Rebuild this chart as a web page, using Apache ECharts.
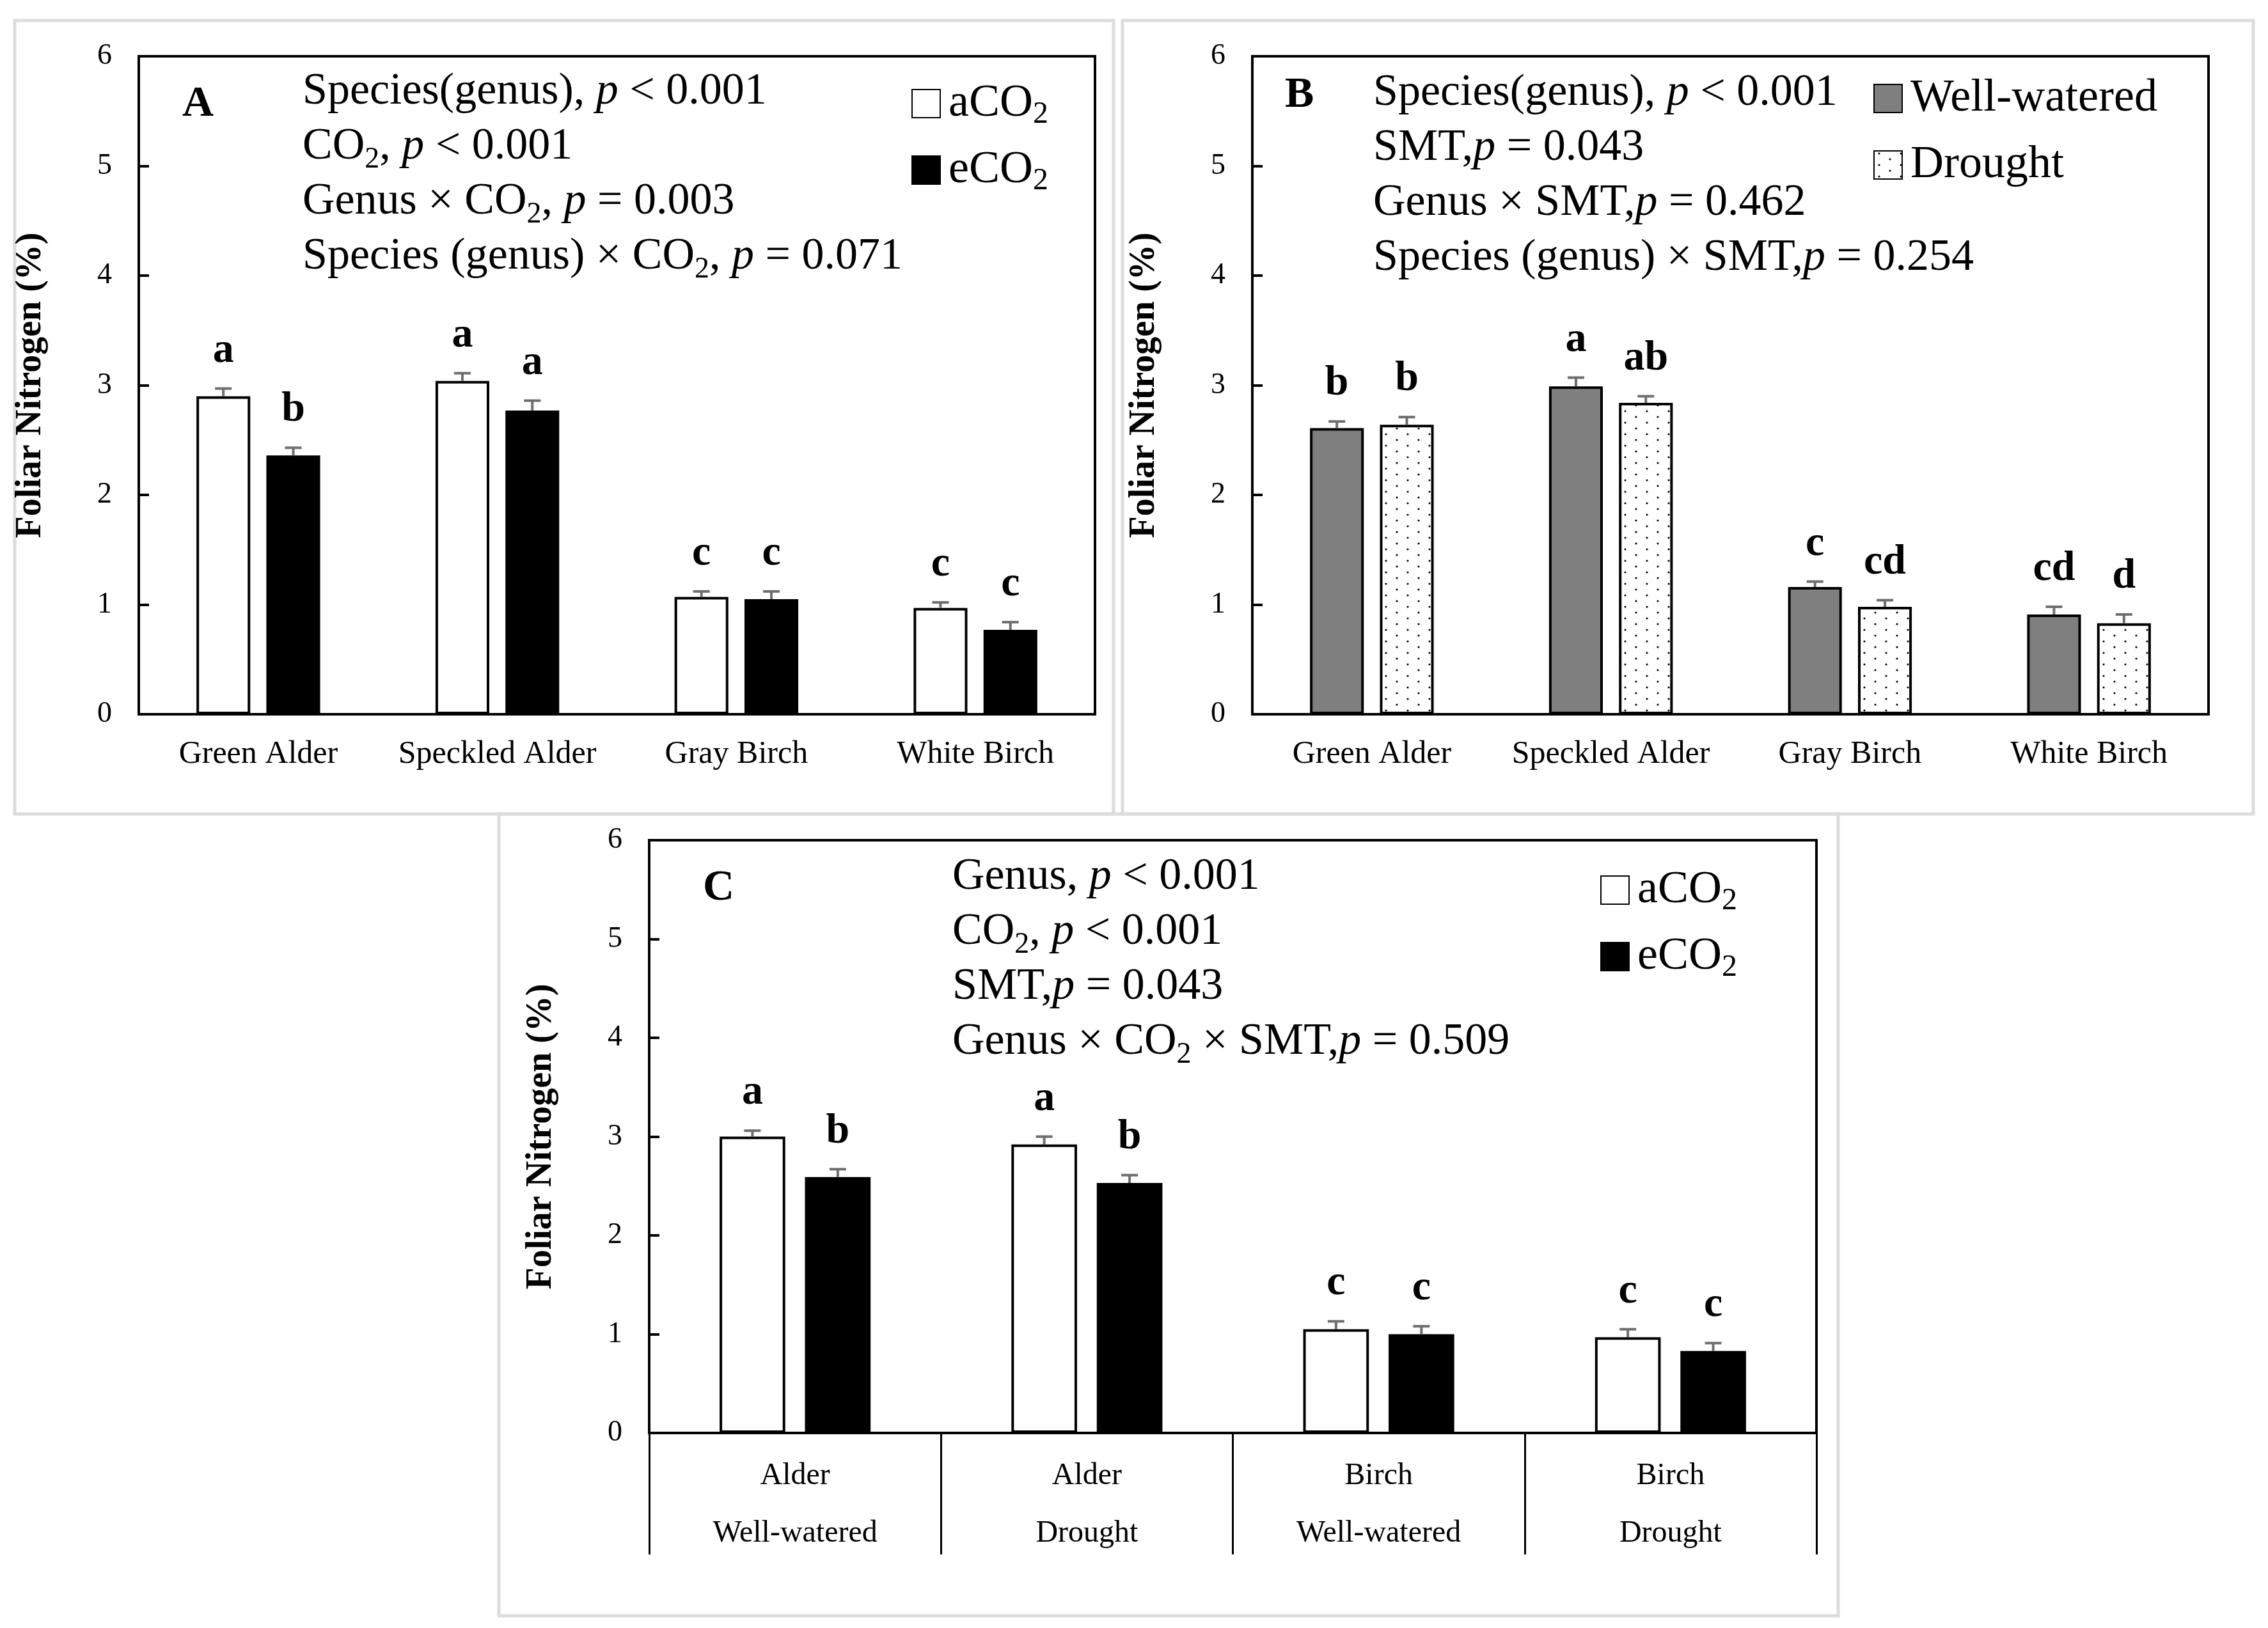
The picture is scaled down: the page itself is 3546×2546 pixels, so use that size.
<!DOCTYPE html>
<html>
<head>
<meta charset="utf-8">
<script src="https://cdn.jsdelivr.net/npm/echarts@6/dist/echarts.min.js"></script>
<style>
  html, body { margin: 0; padding: 0; background: #fff; }
  #chart { width: 3546px; height: 2546px; }
</style>
</head>
<body>
<div id="chart"></div>
<script>
// panel A / B categories
const species = ['Green Alder', 'Speckled Alder', 'Gray Birch', 'White Birch']
// panel C categories (genus + soil moisture)
const groups = ['Alder\nWell-watered', 'Alder\nDrought', 'Birch\nWell-watered', 'Birch\nDrought']
const yTicks = [0, 1, 2, 3, 4, 5, 6]

// A: CO2 by species
const aAmb = [2.90, 3.04, 1.07, 0.97]
const aAmbErr = [0.07, 0.07, 0.05, 0.05]
const aAmbLetters = ['a', 'a', 'c', 'c']
const aElev = [2.36, 2.77, 1.05, 0.77]
const aElevErr = [0.07, 0.09, 0.07, 0.07]
const aElevLetters = ['b', 'a', 'c', 'c']

// B: soil moisture by species
const bWet = [2.61, 2.99, 1.16, 0.91]
const bWetErr = [0.06, 0.08, 0.05, 0.07]
const bWetLetters = ['b', 'a', 'c', 'cd']
const bDry = [2.64, 2.84, 0.98, 0.83]
const bDryErr = [0.07, 0.06, 0.06, 0.08]
const bDryLetters = ['b', 'ab', 'cd', 'd']

// C: CO2 by genus x soil moisture
const cAmb = [3.00, 2.92, 1.05, 0.97]
const cAmbErr = [0.06, 0.08, 0.08, 0.08]
const cAmbLetters = ['a', 'a', 'c', 'c']
const cElev = [2.59, 2.53, 1.00, 0.83]
const cElevErr = [0.08, 0.08, 0.08, 0.08]
const cElevLetters = ['b', 'b', 'c', 'c']

const serif = '"Liberation Serif", "Times New Roman", serif'
const BAR_W = 0.225
const BAR_GAP = 0.3
const SHIFT = BAR_W * (1 + BAR_GAP) / 2

// dotted fill for the drought bars
function dotPattern() {
  const c = document.createElement('canvas')
  c.width = 34
  c.height = 18
  const ctx = c.getContext('2d')
  ctx.fillStyle = '#fff'
  ctx.fillRect(0, 0, 34, 18)
  ctx.fillStyle = '#000'
  ctx.beginPath()
  ctx.arc(8, 4, 1.6, 0, Math.PI * 2)
  ctx.arc(25, 13, 1.6, 0, Math.PI * 2)
  ctx.fill()
  return c
}

function errorSeries(name, idx, values, errs, letters, side) {
  return {
    name: name,
    type: 'custom',
    xAxisIndex: idx,
    yAxisIndex: idx,
    clip: false,
    z: 5,
    data: values.map((v, i) => [i, v, errs[i]]),
    renderItem: function (params, api) {
      const i = api.value(0)
      const band = api.size([1, 0])[0]
      const x = api.coord([i, 0])[0] + side * band * SHIFT
      const yBar = api.coord([i, api.value(1)])[1]
      const yTop = api.coord([i, api.value(1) + api.value(2)])[1]
      const pen = { stroke: '#6e6e6e', lineWidth: 4 }
      return {
        type: 'group',
        children: [
          { type: 'line', shape: { x1: x, y1: yBar, x2: x, y2: yTop }, style: pen },
          { type: 'line', shape: { x1: x - 13, y1: yTop, x2: x + 13, y2: yTop }, style: pen },
          {
            type: 'text',
            x: x,
            y: yTop - 26,
            style: {
              text: letters[params.dataIndex],
              font: 'bold 66px ' + serif,
              fill: '#000',
              align: 'center',
              verticalAlign: 'bottom'
            }
          }
        ]
      }
    }
  }
}

function barSeries(name, idx, values, fill) {
  return {
    name: name,
    type: 'bar',
    xAxisIndex: idx,
    yAxisIndex: idx,
    barWidth: (BAR_W * 100) + '%',
    barGap: (BAR_GAP * 100) + '%',
    itemStyle: { color: fill, borderColor: '#000', borderWidth: 4 },
    data: values
  }
}

function yAxis(idx) {
  return {
    type: 'value',
    gridIndex: idx,
    min: yTicks[0],
    max: yTicks[yTicks.length - 1],
    interval: 1,
    name: 'Foliar Nitrogen (%)',
    nameLocation: 'middle',
    nameGap: 140,
    nameTextStyle: { fontFamily: serif, fontWeight: 'bold', fontSize: 56, color: '#000' },
    axisLine: { show: true, lineStyle: { color: '#000', width: 4 } },
    axisTick: { show: true, inside: true, length: 16, lineStyle: { color: '#000', width: 4 } },
    axisLabel: { fontFamily: serif, fontSize: 46, color: '#000', margin: 42 },
    splitLine: { show: false }
  }
}

function speciesAxis(idx) {
  return {
    type: 'category',
    gridIndex: idx,
    data: species,
    axisLine: { lineStyle: { color: '#000', width: 4 } },
    axisTick: { show: false },
    axisLabel: { fontFamily: serif, fontSize: 50, color: '#000', margin: 38, interval: 0 }
  }
}

const textStyle = {
  fontFamily: serif,
  fontWeight: 'normal',
  fontSize: 70,
  color: '#000',
  lineHeight: 86,
  rich: {
    i: { fontFamily: serif, fontWeight: 'normal', fontSize: 70, fontStyle: 'italic', color: '#000', lineHeight: 86 },
    s: { fontFamily: serif, fontWeight: 'normal', fontSize: 46, color: '#000', lineHeight: 50, verticalAlign: 'bottom' }
  }
}

function legend(left, top, names) {
  return {
    orient: 'vertical',
    left: left,
    top: top,
    data: names,
    icon: 'rect',
    itemWidth: 44,
    itemHeight: 44,
    itemGap: 22,
    selectedMode: false,
    formatter: n => n.replace('CO2', 'CO{s|2}'),
    textStyle: {
      fontFamily: serif,
      fontSize: 72,
      color: '#000',
      lineHeight: 82,
      padding: [0, 0, 0, 8],
      rich: {
        s: { fontFamily: serif, fontSize: 48, color: '#000', lineHeight: 52, verticalAlign: 'bottom' }
      }
    }
  }
}

function panelLetter(t, left, top) {
  return { text: t, left: left, top: top, textStyle: { fontFamily: serif, fontWeight: 'bold', fontSize: 68, color: '#000' } }
}

const frame = { stroke: '#dcdcdc', lineWidth: 5, fill: 'none' }

const chart = echarts.init(document.getElementById('chart'))
chart.setOption({
  animation: false,
  backgroundColor: '#fff',
  grid: [
    { left: 217, top: 88, width: 1495, height: 1029, show: true, borderColor: '#000', borderWidth: 4 },
    { left: 1958, top: 88, width: 1495, height: 1029, show: true, borderColor: '#000', borderWidth: 4 },
    { left: 1015, top: 1314, width: 1825, height: 927, show: true, borderColor: '#000', borderWidth: 4 }
  ],
  xAxis: [
    speciesAxis(0),
    speciesAxis(1),
    {
      type: 'category',
      gridIndex: 2,
      data: groups,
      axisLine: { lineStyle: { color: '#000', width: 4 } },
      axisTick: { show: true, length: 190, interval: 0, lineStyle: { color: '#000', width: 3 } },
      axisLabel: { fontFamily: serif, fontSize: 48, color: '#000', margin: 22, lineHeight: 90, interval: 0 }
    }
  ],
  yAxis: [yAxis(0), yAxis(1), yAxis(2)],
  title: [
    panelLetter('A', 280, 124),
    panelLetter('B', 2004, 110),
    panelLetter('C', 1094, 1350),
    {
      left: 468, top: 96,
      text: 'Species(genus), {i|p} < 0.001\nCO{s|2}, {i|p} < 0.001\nGenus × CO{s|2}, {i|p} = 0.003\nSpecies (genus) × CO{s|2}, {i|p} = 0.071',
      textStyle: textStyle
    },
    {
      left: 2142, top: 98,
      text: 'Species(genus), {i|p} < 0.001\nSMT,{i|p} = 0.043\nGenus × SMT,{i|p} = 0.462\nSpecies (genus) × SMT,{i|p} = 0.254',
      textStyle: textStyle
    },
    {
      left: 1484, top: 1324,
      text: 'Genus, {i|p} < 0.001\nCO{s|2}, {i|p} < 0.001\nSMT,{i|p} = 0.043\nGenus × CO{s|2} × SMT,{i|p} = 0.509',
      textStyle: textStyle
    }
  ],
  legend: [
    legend(1420, 116, ['aCO2', 'eCO2']),
    legend(2924, 108, ['Well-watered', 'Drought']),
    legend(2497, 1346, ['aCO2', 'eCO2'])
  ],
  graphic: [
    { type: 'rect', z: -10, shape: { x: 23, y: 32, width: 1718, height: 1241 }, style: frame },
    { type: 'rect', z: -10, shape: { x: 1755, y: 32, width: 1768, height: 1241 }, style: frame },
    { type: 'rect', z: -10, shape: { x: 780, y: 1273, width: 2094, height: 1254 }, style: frame }
  ],
  series: [
    barSeries('aCO2', 0, aAmb, '#fff'),
    barSeries('eCO2', 0, aElev, '#000'),
    errorSeries('aCO2 SE', 0, aAmb, aAmbErr, aAmbLetters, -1),
    errorSeries('eCO2 SE', 0, aElev, aElevErr, aElevLetters, 1),

    barSeries('Well-watered', 1, bWet, '#7f7f7f'),
    barSeries('Drought', 1, bDry, { image: dotPattern(), repeat: 'repeat' }),
    errorSeries('Well-watered SE', 1, bWet, bWetErr, bWetLetters, -1),
    errorSeries('Drought SE', 1, bDry, bDryErr, bDryLetters, 1),

    barSeries('aCO2', 2, cAmb, '#fff'),
    barSeries('eCO2', 2, cElev, '#000'),
    errorSeries('aCO2 SE C', 2, cAmb, cAmbErr, cAmbLetters, -1),
    errorSeries('eCO2 SE C', 2, cElev, cElevErr, cElevLetters, 1)
  ]
})
window.addEventListener('resize', function () {
  chart.resize()
})
</script>
</body>
</html>
